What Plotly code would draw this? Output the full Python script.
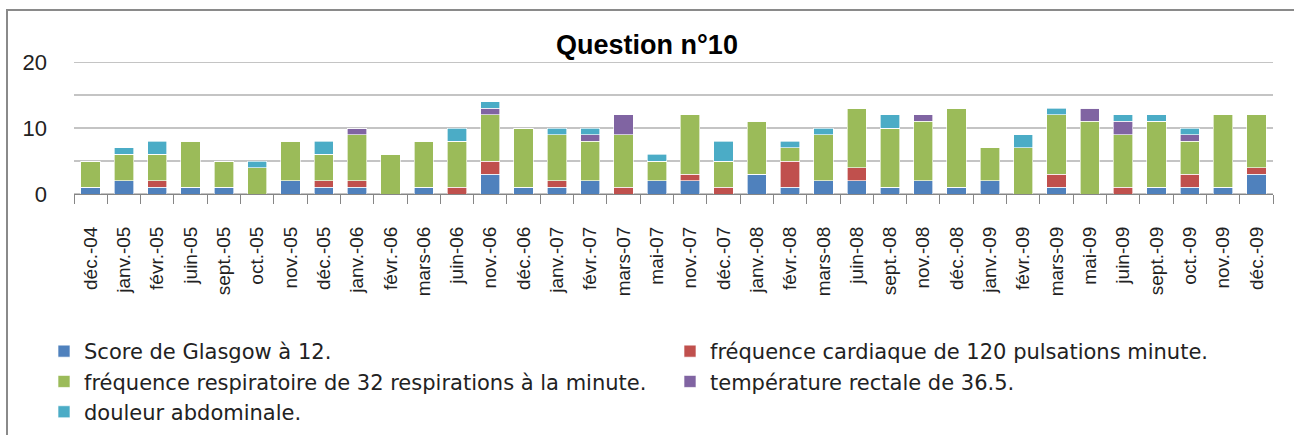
import plotly.graph_objects as go

categories = ["déc.-04", "janv.-05", "févr.-05", "juin-05", "sept.-05", "oct.-05",
              "nov.-05", "déc.-05", "janv.-06", "févr.-06", "mars-06", "juin-06",
              "nov.-06", "déc.-06", "janv.-07", "févr.-07", "mars-07", "mai-07",
              "nov.-07", "déc.-07", "janv.-08", "févr.-08", "mars-08", "juin-08",
              "sept.-08", "nov.-08", "déc.-08", "janv.-09", "févr.-09", "mars-09",
              "mai-09", "juin-09", "sept.-09", "oct.-09", "nov.-09", "déc.-09"]

glasgow =      [1, 2, 1, 1, 1, 0, 2, 1, 1, 0, 1, 0, 3, 1, 1, 2, 0, 2, 2, 0, 3, 1, 2, 2, 1, 2, 1, 2, 0, 1, 0, 0, 1, 1, 1, 3]
cardiaque =    [0, 0, 1, 0, 0, 0, 0, 1, 1, 0, 0, 1, 2, 0, 1, 0, 1, 0, 1, 1, 0, 4, 0, 2, 0, 0, 0, 0, 0, 2, 0, 1, 0, 2, 0, 1]
respiratoire = [4, 4, 4, 7, 4, 4, 6, 4, 7, 6, 7, 7, 7, 9, 7, 6, 8, 3, 9, 4, 8, 2, 7, 9, 9, 9, 12, 5, 7, 9, 11, 8, 10, 5, 11, 8]
temperature =  [0, 0, 0, 0, 0, 0, 0, 0, 1, 0, 0, 0, 1, 0, 0, 1, 3, 0, 0, 0, 0, 0, 0, 0, 0, 1, 0, 0, 0, 0, 2, 2, 0, 1, 0, 0]
douleur =      [0, 1, 2, 0, 0, 1, 0, 2, 0, 0, 0, 2, 1, 0, 1, 1, 0, 1, 0, 3, 0, 1, 1, 0, 2, 0, 0, 0, 2, 1, 0, 1, 1, 1, 0, 0]

series_names = ["Score de Glasgow à 12.",
                "fréquence cardiaque de 120 pulsations minute.",
                "fréquence respiratoire de 32 respirations à la minute.",
                "température rectale de 36.5.",
                "douleur abdominale."]
series_values = [glasgow, cardiaque, respiratoire, temperature, douleur]
series_colors = ["#4F81BD", "#C0504D", "#9BBB59", "#8064A2", "#4BACC6"]
series_legend = ["legend", "legend2", "legend", "legend2", "legend"]

y_tickvals = [0, 10, 20]
title_text = "Question n°10"

FONT = "'Liberation Sans', Arial, sans-serif"
LEG_FONT = "'DejaVu Sans', 'Liberation Sans', sans-serif"

fig = go.Figure()
for name, vals, col, lg in zip(series_names, series_values, series_colors, series_legend):
    fig.add_trace(go.Bar(x=categories, y=vals, name=name, legend=lg,
                         marker=dict(color=col, line=dict(color="rgba(255,255,255,0.8)", width=0.8))))

W, H = 1294, 435
L, R, T, B = 74, 21, 62, 241
pw, ph = W - L - R, H - T - B

def px_x(p):
    return (p - L) / pw

def px_y(p):
    return (H - B - p) / ph

legend_font = dict(family=LEG_FONT, size=21, color="#222222")
fig.update_layout(
    width=W, height=H,
    margin=dict(l=L, r=R, t=T, b=B, autoexpand=False),
    barmode="stack",
    bargap=0.42,
    plot_bgcolor="white",
    paper_bgcolor="white",
    font=dict(family=FONT, color="#222222", size=18),
    title=dict(text="<b>" + title_text + "</b>", x=0.5, xanchor="center",
               xref="container", yref="container",
               y=1 - 45 / H, yanchor="middle", font=dict(size=27, color="#000000")),
    showlegend=True,
    legend=dict(orientation="v", xref="container", yref="container",
                x=44 / W, y=1 - 331 / H, xanchor="left", yanchor="top",
                traceorder="normal", font=legend_font, bgcolor="rgba(0,0,0,0)"),
    legend2=dict(orientation="v", xref="container", yref="container",
                 x=670 / W, y=1 - 331 / H, xanchor="left", yanchor="top",
                 traceorder="normal", font=legend_font, bgcolor="rgba(0,0,0,0)"),
    xaxis=dict(type="category", tickangle=-90, showline=True, linecolor="#868686",
               linewidth=1, ticks="outside", tickson="boundaries", ticklen=9,
               tickcolor="#868686", tickfont=dict(size=19, color="#222222"),
               ticklabelstandoff=24, showgrid=False),
    yaxis=dict(range=[0, 20], tickvals=y_tickvals, showgrid=False,
               showline=False, zeroline=False, ticks="", ticklabelstandoff=26,
               tickfont=dict(size=22, color="#222222")),
)

for g in [0, 5, 10, 15, 20]:
    fig.add_shape(type="line", xref="paper", yref="y", x0=0, x1=1, y0=g, y1=g,
                  line=dict(color="#8A8A8A", width=1.2), layer="below")

fig.add_shape(type="rect", xref="paper", yref="paper",
              x0=px_x(7), x1=px_x(1310), y0=px_y(450), y1=px_y(10),
              line=dict(color="#8A8A8A", width=2), fillcolor="rgba(0,0,0,0)")

fig.write_html("out.html", config={"displayModeBar": False},
               post_script="document.body.style.margin='0';")
